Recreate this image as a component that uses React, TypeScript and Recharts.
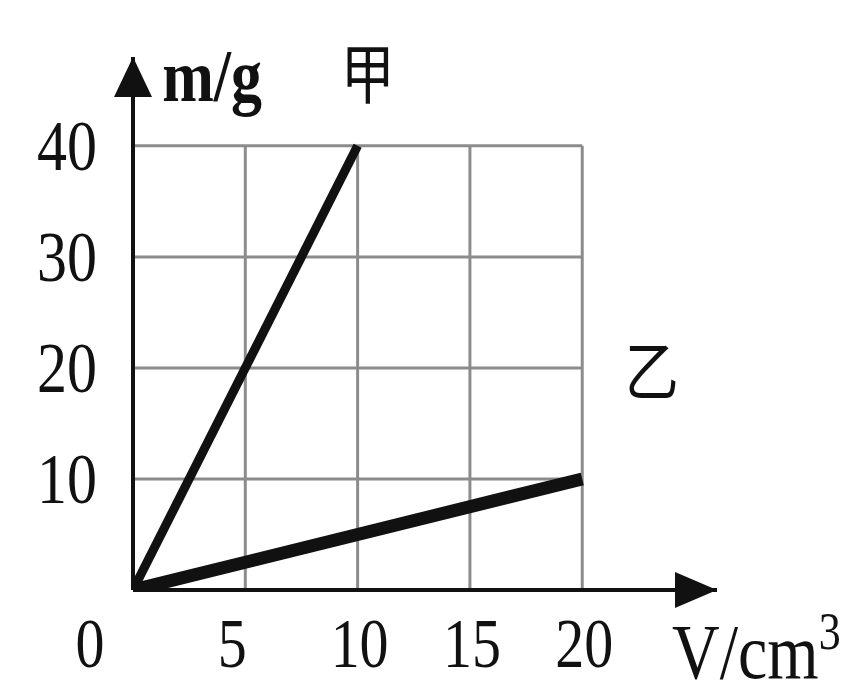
import React from "react";
import {
  LineChart,
  Line,
  XAxis,
  YAxis,
  ReferenceLine,
  ReferenceDot,
} from "recharts";

// volume (cm3) vs mass (g) for the two substances
const jiaData = [
  { v: 0, m: 0 },
  { v: 10, m: 40 },
];
const yiData = [
  { v: 0, m: 0 },
  { v: 20, m: 10 },
];

const xTicks = [0, 5, 10, 15, 20];
const yTicks = [10, 20, 30, 40];
const xGridLines = [5, 10, 15, 20];
const yGridLines = [10, 20, 30, 40];

const X_MAX = 26;
const Y_MAX = 48;

const serif = "'Liberation Serif', 'Times New Roman', serif";
const cjk = "'Noto Sans CJK SC', sans-serif";
const ink = "#111";
const gridColor = "#8c8c8c";

// the scan is a little stretched vertically, so text gets scale(1, 1.2)
const XTick = (props: any) => {
  const { x, y, payload } = props;
  const v = payload.value;
  const shift = v === 0 ? -43 : v === 5 ? -13 : 2;
  return (
    <text
      transform={`translate(${x + shift},${y + 77}) scale(1,1.2)`}
      textAnchor="middle"
      fontFamily={serif}
      fontSize={58}
      fill={ink}
    >
      {v}
    </text>
  );
};

const YTick = (props: any) => {
  const { x, y, payload } = props;
  return (
    <text
      transform={`translate(${x - 36},${y + 24}) scale(1,1.2)`}
      textAnchor="end"
      fontFamily={serif}
      fontSize={60}
      fill={ink}
    >
      {payload.value}
    </text>
  );
};

const arrowRight = ({ cx, cy }: any) => (
  <polygon
    points={`${cx},${cy} ${cx - 42},${cy - 18} ${cx - 42},${cy + 18}`}
    fill={ink}
  />
);

const arrowUp = ({ cx, cy }: any) => (
  <polygon
    points={`${cx},${cy} ${cx - 19},${cy + 40} ${cx + 19},${cy + 40}`}
    fill={ink}
  />
);

const textShape =
  (content: React.ReactNode, font: string, size: number, weight = "normal", anchor = "start") =>
  ({ cx, cy }: any) =>
    (
      <text
        transform={`translate(${cx},${cy}) scale(1,1.2)`}
        textAnchor={anchor}
        fontFamily={font}
        fontSize={size}
        fontWeight={weight}
        fill={ink}
      >
        {content}
      </text>
    );

export default function App() {
  return (
    <div style={{ width: 860, height: 682, background: "#fff" }}>
      <style>{"body{margin:0}"}</style>
      <LineChart
        width={860}
        height={682}
        margin={{ top: 57, right: 143, bottom: 91, left: 132 }}
      >
        {xGridLines.map((v) => (
          <ReferenceLine
            key={`vx${v}`}
            segment={[
              { x: v, y: 0 },
              { x: v, y: 40 },
            ]}
            stroke={gridColor}
            strokeWidth={3}
          />
        ))}
        {yGridLines.map((m) => (
          <ReferenceLine
            key={`hy${m}`}
            segment={[
              { x: 0, y: m },
              { x: 20, y: m },
            ]}
            stroke={gridColor}
            strokeWidth={3}
          />
        ))}
        <XAxis
          type="number"
          dataKey="v"
          domain={[0, X_MAX]}
          ticks={xTicks}
          height={1}
          tickSize={0}
          tickMargin={0}
          tick={<XTick />}
          axisLine={{ stroke: ink, strokeWidth: 4 }}
          tickLine={false}
          allowDataOverflow
        />
        <YAxis
          type="number"
          dataKey="m"
          domain={[0, Y_MAX]}
          ticks={yTicks}
          width={1}
          tickSize={0}
          tickMargin={0}
          tick={<YTick />}
          axisLine={{ stroke: ink, strokeWidth: 4 }}
          tickLine={false}
          allowDataOverflow
        />
        <Line
          data={jiaData}
          dataKey="m"
          stroke={ink}
          strokeWidth={9}
          dot={false}
          isAnimationActive={false}
        />
        <Line
          data={yiData}
          dataKey="m"
          stroke={ink}
          strokeWidth={13}
          dot={false}
          isAnimationActive={false}
        />
        <ReferenceDot x={X_MAX} y={0} ifOverflow="visible" shape={arrowRight} />
        <ReferenceDot x={0} y={Y_MAX} ifOverflow="visible" shape={arrowUp} />
        <ReferenceDot
          x={1.3}
          y={44}
          ifOverflow="visible"
          shape={textShape("m/g", serif, 62, "bold")}
        />
        <ReferenceDot
          x={10.45}
          y={44.3}
          ifOverflow="visible"
          shape={textShape("甲", cjk, 54, "normal", "middle")}
        />
        <ReferenceDot
          x={23.1}
          y={17.6}
          ifOverflow="visible"
          shape={textShape("乙", cjk, 54, "normal", "middle")}
        />
        <ReferenceDot
          x={24}
          y={-7.9}
          ifOverflow="visible"
          shape={textShape(
            <>
              V/cm
              <tspan fontSize={44} dy={-24}>
                3
              </tspan>
            </>,
            serif,
            66
          )}
        />
      </LineChart>
    </div>
  );
}
